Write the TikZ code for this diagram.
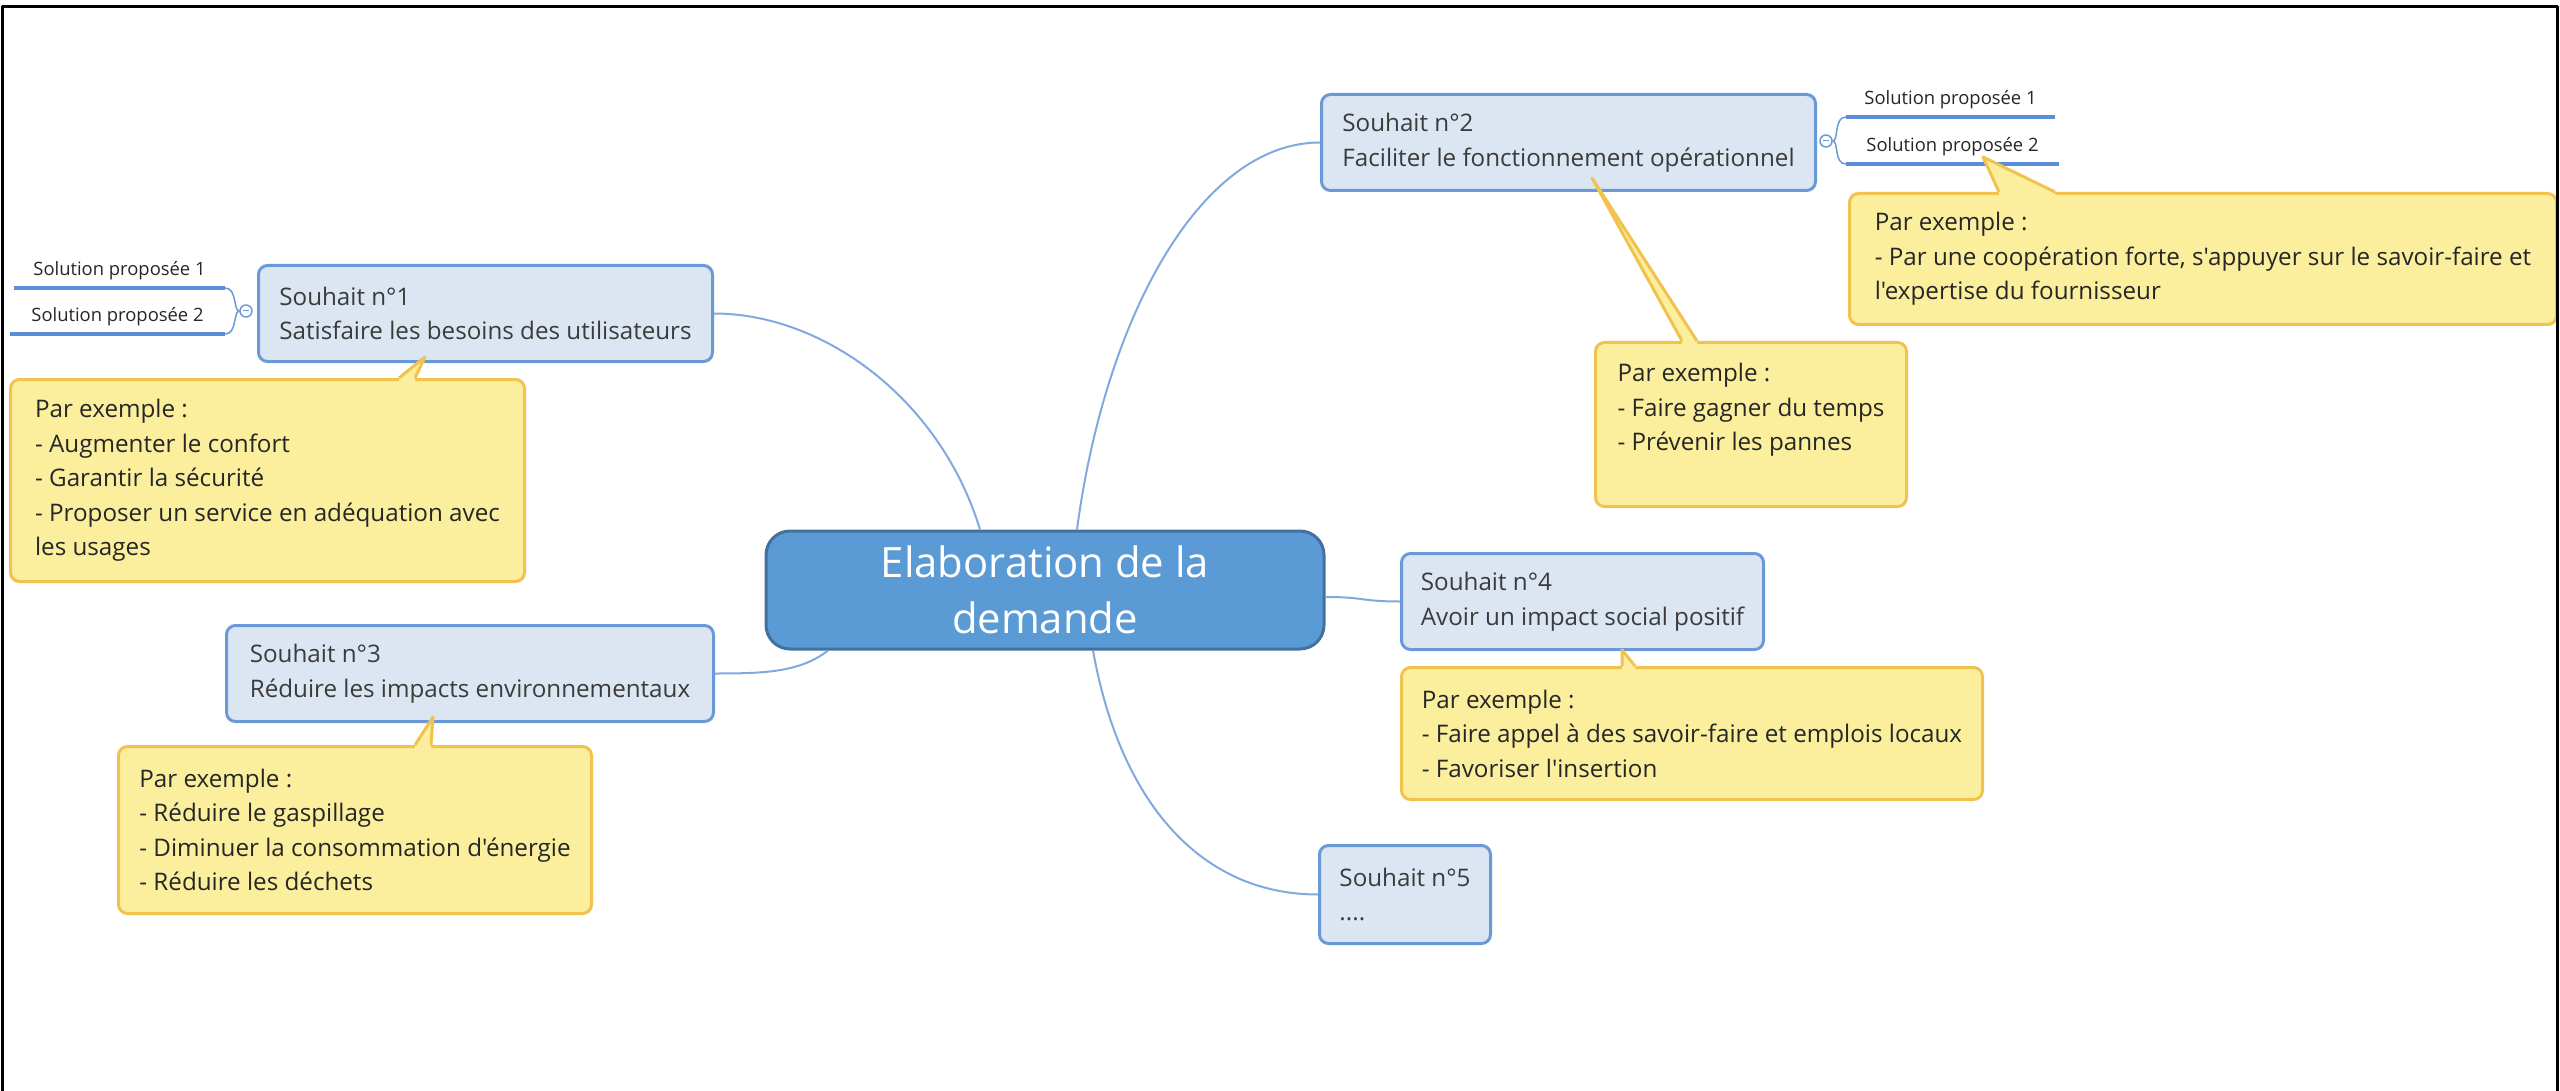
\documentclass[tikz,border=0pt]{standalone}
\usepackage{fontspec}
\setmainfont{Open Sans}[Ligatures=TeXOff]
\definecolor{shfill}{HTML}{DCE6F2}
\definecolor{shline}{HTML}{6A9AD6}
\definecolor{ctrfill}{HTML}{5B9BD5}
\definecolor{ctrline}{HTML}{41719C}
\definecolor{exfill}{HTML}{FBEF9E}
\definecolor{exline}{HTML}{F2C24F}
\definecolor{branchcol}{HTML}{82A9DD}
\definecolor{solcol}{HTML}{5B8ED6}
\definecolor{shtext}{HTML}{3B3B3B}
\begin{document}
\begin{tikzpicture}[x=1pt,y=-1pt,line join=round]
\tikzset{ctr/.style={draw=ctrline,fill=ctrfill,line width=3pt,rounded corners=24pt,minimum width=558pt,minimum height=118pt,align=center,text=white,font=\fontsize{41.8}{56}\selectfont},
souhait/.style={draw=shline,fill=shfill,line width=3pt,rounded corners=9pt,anchor=north west,align=left,inner xsep=19pt,inner ysep=0pt,minimum height=96pt,text=shtext,font=\fontsize{24.2}{34.5}\selectfont},
exemple/.style={draw=exline,fill=exfill,line width=3pt,rounded corners=9pt,anchor=north west,align=left,inner xsep=20pt,inner ysep=0pt,text=black!85,font=\fontsize{24.2}{34.5}\selectfont},
solution/.style={anchor=south,inner xsep=0pt,inner ysep=7pt,text height=14pt,text depth=5pt,text=black!85,font=\fontsize{18.4}{22}\selectfont},
knob/.style={circle,draw=shline,fill=white,line width=1.5pt,inner sep=0pt,minimum size=12pt},
branch/.style={draw=branchcol,line width=2pt},
bracket/.style={draw=shline,line width=1.5pt},
underline/.style={draw=solcol,line width=3.5pt}}
\useasboundingbox (0,0) rectangle (2560,1091);
\node[ctr] (ctr) at (1045,590) {Elaboration de la\\demande};
\node[souhait,minimum width=454pt] (sh1) at (257,264) {Souhait n°1\\Satisfaire les besoins des utilisateurs};
\node[souhait,minimum width=494pt] (sh2) at (1320,93) {Souhait n°2\\Faciliter le fonctionnement opérationnel};
\node[souhait,minimum width=487pt] (sh3) at (225,624) {Souhait n°3\\Réduire les impacts environnementaux};
\node[souhait,minimum width=362pt] (sh4) at (1400,552) {Souhait n°4\\Avoir un impact social positif};
\node[souhait,minimum width=171pt,minimum height=98pt] (sh5) at (1318,844) {Souhait n°5\\....};
\node[exemple,minimum width=514pt,minimum height=202pt] (ex1) at (9,378) {Par exemple :\\- Augmenter le confort\\- Garantir la sécurité\\- Proposer un service en adéquation avec\\les usages};
\node[exemple,minimum width=311pt,minimum height=164pt] (ex2) at (1594,341) {Par exemple :\\- Faire gagner du temps\\- Prévenir les pannes\\\mbox{}};
\node[exemple,minimum width=707pt,minimum height=131pt] (ex2s) at (1848,192) {Par exemple :\\- Par une coopération forte, s'appuyer sur le savoir-faire et\\l'expertise du fournisseur};
\node[exemple,minimum width=473pt,minimum height=167pt] (ex3) at (117,745) {Par exemple :\\- Réduire le gaspillage\\- Diminuer la consommation d'énergie\\- Réduire les déchets};
\node[exemple,minimum width=581pt,minimum height=132pt] (ex4) at (1400,666) {Par exemple :\\- Faire appel à des savoir-faire et emplois locaux\\- Favoriser l'insertion};
\node[solution,minimum width=211pt] (sol11) at (119.5,288) {Solution proposée 1};
\node[solution,minimum width=215pt] (sol12) at (117.5,334) {Solution proposée 2};
\node[solution,minimum width=209pt] (sol21) at (1950.5,117) {Solution proposée 1};
\node[solution,minimum width=213pt] (sol22) at (1952.5,164) {Solution proposée 2};
\node[knob] (knob1) at (246,311) {};
\node[knob] (knob2) at (1826,141) {};
\draw[branch] ([xshift=-65pt]ctr.north) .. controls +(-40,-131) and +(109,0) .. (sh1.east);
\draw[branch] ([xshift=32pt]ctr.north) .. controls +(28,-211) and +(-120,0) .. (sh2.west);
\draw[branch] ([xshift=-217pt]ctr.south) .. controls +(-28,22) and +(48,0) .. (sh3.east);
\draw[branch] ([yshift=-7pt]ctr.east) .. controls +(40,0) and +(-40,0) .. (sh4.west);
\draw[branch] ([xshift=48pt]ctr.south) .. controls +(27,151) and +(-118,0) .. (sh5.west);
\foreach \s in {sol11,sol12,sol21,sol22}
\draw[underline] (\s.south west) -- (\s.south east);
\foreach \s in {sol11,sol12}
\draw[bracket] (knob1.west) .. controls +(-6,0) and +(12,0) .. (\s.south east);
\foreach \s in {sol21,sol22}
\draw[bracket] (knob2.east) .. controls +(6,0) and +(-12,0) .. (\s.south west);
\foreach \k in {knob1,knob2}
\draw[draw=shline,line width=1pt] ([xshift=-3pt]\k.center) -- ([xshift=3pt]\k.center);
\foreach \ax/\ay/\lx/\rx/\by in {425/357/399/415/378,1592/178/1682/1697/341,1983/157/1999/2055/192,433/717/415/431/745,1622/650/1622/1635/666}{
\fill[exfill] (\lx,\by+4) -- (\lx,\by) -- (\ax,\ay) -- (\rx,\by) -- (\rx,\by+4) -- cycle;
\draw[draw=exline,line width=3pt] (\lx,\by) -- (\ax,\ay) -- (\rx,\by);
}
\draw[line width=3pt] (2,1091) -- (2,7) -- (2557,7) -- (2557,1091);
\end{tikzpicture}
\end{document}
